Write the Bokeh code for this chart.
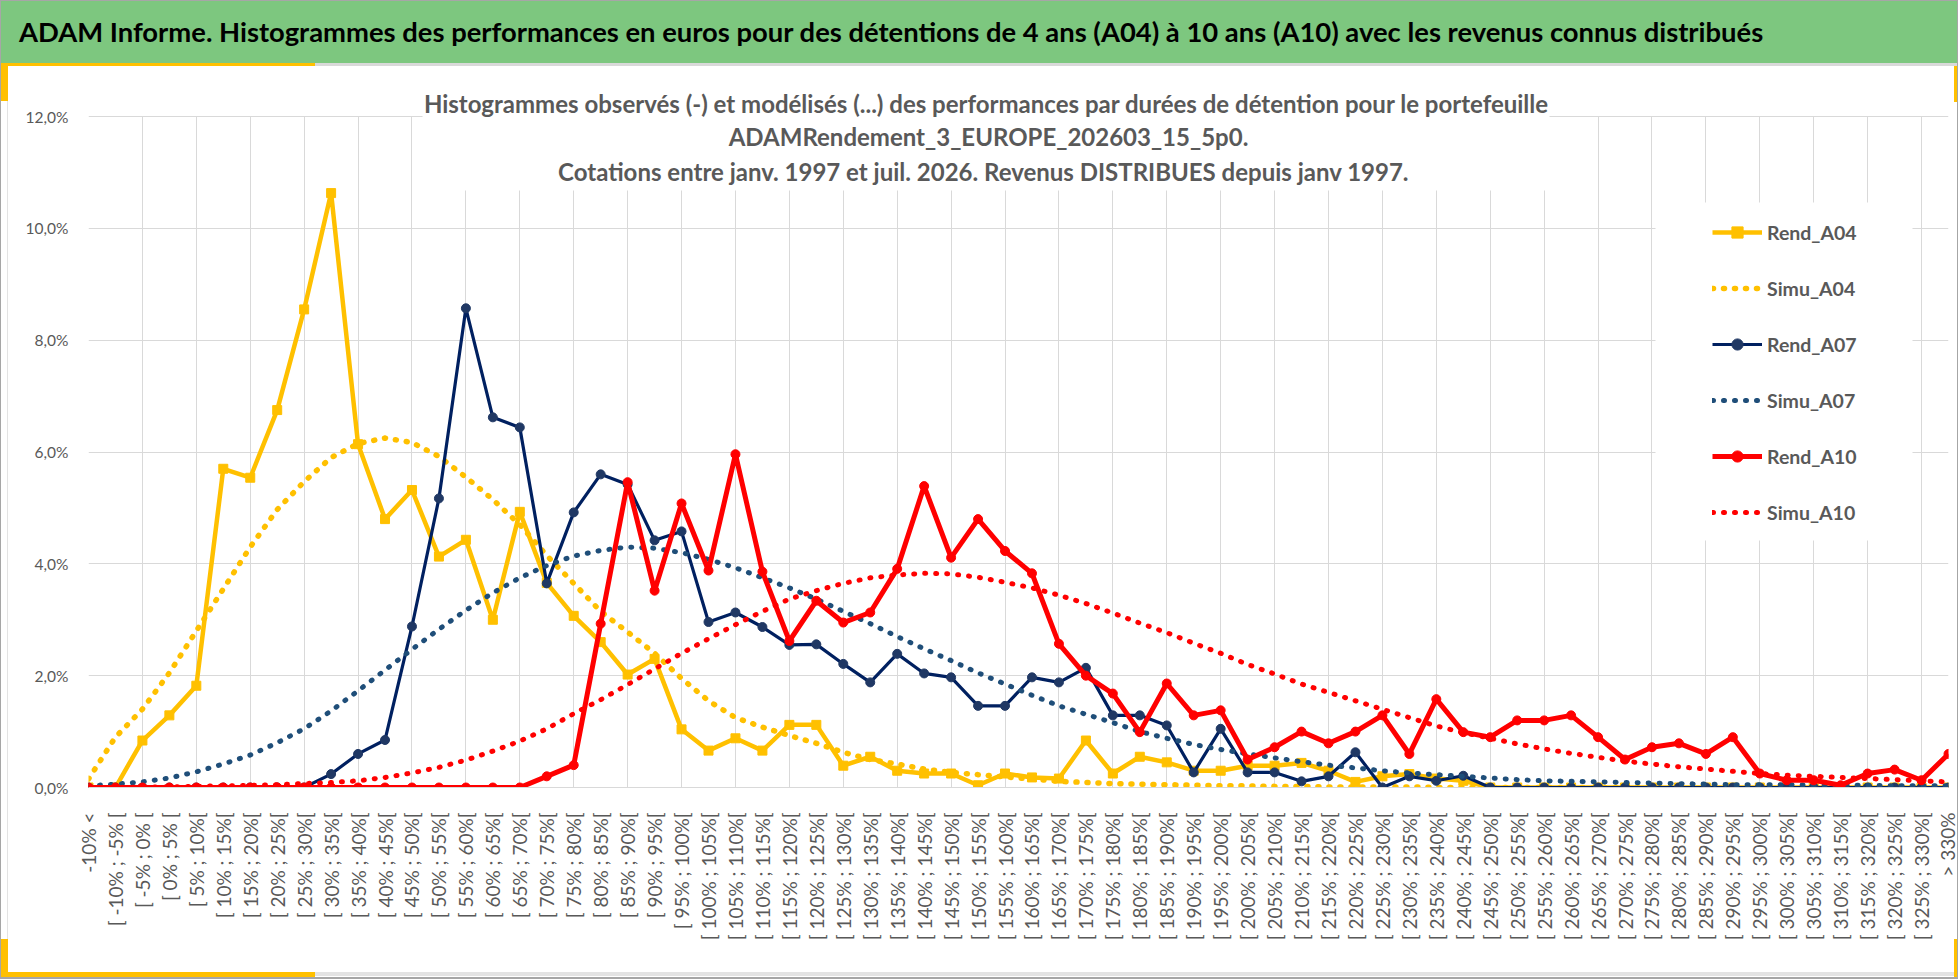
import math

from bokeh.plotting import figure
from bokeh.layouts import column
from bokeh.models import (FixedTicker, Range1d, Label, BoxAnnotation, Legend, LegendItem, Div)
from bokeh.embed import file_html
from bokeh.resources import INLINE

# --- donnees (en %) ---
bornes = list(range(-10, 330, 5))
categories = (["-10% <"]
              + ["[ %d%% ; %d%%%s[" % (b, b + 5, " " if abs(b + 5) < 10 else "") for b in bornes]
              + ["> 330%"])

rend_a04 = [0.00, 0.00, 0.84, 1.29, 1.82, 5.70, 5.54, 6.75, 8.55, 10.63,
            6.14, 4.80, 5.32, 4.13, 4.43, 3.00, 4.93, 3.66, 3.07, 2.60,
            2.02, 2.30, 1.04, 0.66, 0.88, 0.66, 1.12, 1.12, 0.39, 0.55,
            0.30, 0.25, 0.25, 0.04, 0.25, 0.18, 0.16, 0.84, 0.25, 0.55,
            0.45, 0.30, 0.30, 0.39, 0.39, 0.44, 0.30, 0.10, 0.20, 0.24,
            0.16, 0.12, 0.00, 0.00, 0.00, 0.00, 0.00, 0.00, 0.00, 0.00,
            0.00, 0.00, 0.00, 0.00, 0.00, 0.00, 0.00, 0.00, 0.00, 0.00]

simu_a04 = [0.15, 0.90, 1.40, 2.05, 2.80, 3.55, 4.30, 4.97, 5.47, 5.90,
            6.15, 6.25, 6.17, 5.92, 5.55, 5.15, 4.70, 4.15, 3.65, 3.15,
            2.78, 2.40, 1.95, 1.55, 1.25, 1.08, 0.93, 0.79, 0.63, 0.50,
            0.42, 0.33, 0.27, 0.23, 0.19, 0.15, 0.11, 0.09, 0.07, 0.06,
            0.05, 0.04, 0.03, 0.03, 0.02, 0.02, 0.01, 0.01, 0.01, 0.01,
            0.00, 0.00, 0.00, 0.00, 0.00, 0.00, 0.00, 0.00, 0.00, 0.00,
            0.00, 0.00, 0.00, 0.00, 0.00, 0.00, 0.00, 0.00, 0.00, 0.00]

rend_a07 = [0.00, 0.00, 0.00, 0.00, 0.00, 0.00, 0.00, 0.00, 0.00, 0.24,
            0.60, 0.85, 2.88, 5.17, 8.57, 6.62, 6.44, 3.65, 4.92, 5.60,
            5.42, 4.42, 4.58, 2.96, 3.13, 2.87, 2.55, 2.56, 2.21, 1.88,
            2.39, 2.04, 1.97, 1.46, 1.46, 1.97, 1.88, 2.14, 1.29, 1.29,
            1.11, 0.27, 1.05, 0.27, 0.27, 0.11, 0.20, 0.63, 0.00, 0.20,
            0.12, 0.21, 0.00, 0.00, 0.00, 0.00, 0.00, 0.00, 0.00, 0.00,
            0.00, 0.00, 0.00, 0.00, 0.00, 0.00, 0.00, 0.00, 0.00, 0.00]

simu_a07 = [0.03, 0.06, 0.10, 0.17, 0.28, 0.42, 0.58, 0.80, 1.05, 1.37,
            1.73, 2.10, 2.47, 2.83, 3.17, 3.48, 3.75, 3.97, 4.14, 4.24,
            4.30, 4.28, 4.20, 4.08, 3.93, 3.75, 3.57, 3.37, 3.15, 2.93,
            2.70, 2.48, 2.27, 2.05, 1.85, 1.65, 1.46, 1.31, 1.16, 1.00,
            0.88, 0.77, 0.68, 0.60, 0.53, 0.46, 0.40, 0.35, 0.30, 0.26,
            0.23, 0.20, 0.17, 0.14, 0.12, 0.11, 0.10, 0.09, 0.08, 0.07,
            0.06, 0.05, 0.05, 0.05, 0.04, 0.04, 0.04, 0.03, 0.03, 0.03]

rend_a10 = [0.00, 0.00, 0.00, 0.00, 0.00, 0.00, 0.00, 0.00, 0.00, 0.00,
            0.00, 0.00, 0.00, 0.00, 0.00, 0.00, 0.00, 0.20, 0.40, 2.93,
            5.46, 3.52, 5.08, 3.88, 5.96, 3.86, 2.62, 3.34, 2.95, 3.13,
            3.91, 5.39, 4.11, 4.80, 4.23, 3.83, 2.57, 2.00, 1.68, 0.99,
            1.86, 1.29, 1.38, 0.50, 0.72, 1.00, 0.79, 1.00, 1.29, 0.60,
            1.58, 0.99, 0.90, 1.20, 1.20, 1.29, 0.90, 0.50, 0.72, 0.79,
            0.60, 0.90, 0.25, 0.13, 0.13, 0.04, 0.25, 0.32, 0.13, 0.60]

simu_a10 = [0.00, 0.00, 0.01, 0.01, 0.02, 0.03, 0.04, 0.05, 0.07, 0.09,
            0.12, 0.18, 0.26, 0.36, 0.49, 0.65, 0.83, 1.05, 1.32, 1.57,
            1.84, 2.12, 2.40, 2.66, 2.91, 3.15, 3.37, 3.52, 3.65, 3.75,
            3.80, 3.83, 3.82, 3.76, 3.67, 3.57, 3.44, 3.29, 3.12, 2.94,
            2.77, 2.58, 2.40, 2.20, 2.03, 1.85, 1.70, 1.55, 1.40, 1.25,
            1.10, 0.98, 0.88, 0.78, 0.69, 0.61, 0.54, 0.47, 0.42, 0.37,
            0.33, 0.29, 0.25, 0.22, 0.20, 0.18, 0.16, 0.14, 0.12, 0.10]

y_ticks = [0, 2, 4, 6, 8, 10, 12]

titre = ("ADAM Informe. Histogrammes des performances en euros pour des détentions "
         "de 4 ans (A04) à 10 ans (A10) avec les revenus connus distribués")
sous_titres = ["Histogrammes observés (-) et modélisés (...) des performances par durées de détention pour le portefeuille",
               "ADAMRendement_3_EUROPE_202603_15_5p0.",
               "Cotations  entre janv. 1997 et juil. 2026. Revenus DISTRIBUES depuis janv 1997."]

# --- style ---
JAUNE = "#FFC000"
MARINE = "#002060"
MARINE_PT = "#203864"
BLEU_SIMU = "#1F4E79"
ROUGE = "#FF0000"
VERT = "#7DC77F"
GRIS = "#595959"
BORD = "#A6A6A6"
FONT = "Lato"

W = 1958
HH = 66                               # bandeau vert + filet
HF = 8                                # filet du bas
HM = 979 - HH - HF                    # graphique
FL, FR, FT, FB = 88, 1948, 50, 721    # cadre 0..12 % (pixels du graphique)
N = len(categories)
x = list(range(N))
y_top = 12 * FB / (FB - FT)           # le cadre monte jusqu'en haut pour loger le titre


def bande(color, pos, size):
    return "linear-gradient(%s, %s) %s / %s no-repeat" % (color, color, pos, size)


# --- bandeau ---
head = Div(text=titre, width=W, height=HH, margin=0,
           styles={"box-sizing": "border-box", "padding-left": "19px", "line-height": "64px",
                   "font-family": FONT, "font-weight": "bold", "font-size": "27.4px",
                   "color": "black", "white-space": "nowrap", "overflow": "hidden",
                   "background": ", ".join([bande(BORD, "left top", "100% 1px"),
                                            bande(BORD, "left top", "1px 100%"),
                                            bande(BORD, "right top", "1px 100%"),
                                            bande(JAUNE, "left bottom", "315px 3px"),
                                            bande("#D9D9D9", "left bottom", "100% 3px"),
                                            VERT])})
foot = Div(text="", width=W, height=HF, margin=0,
           styles={"box-sizing": "border-box",
                   "background": ", ".join([bande(BORD, "left bottom", "100% 2px"),
                                            bande(BORD, "left top", "1px 100%"),
                                            bande(BORD, "right top", "1px 100%"),
                                            bande(JAUNE, "left 0 top 1px", "315px 5px"),
                                            bande(JAUNE, "left 1px top 0", "7px 100%"),
                                            bande(JAUNE, "right 1px top 0", "3px 100%"),
                                            bande("#E3E3E3", "left 0 top 1px", "100% 4px"),
                                            "white"])})

# --- graphique ---
p = figure(width=W, height=HM, x_range=Range1d(0, N - 1), y_range=Range1d(0, y_top),
           output_backend="svg", toolbar_location=None, title=None,
           min_border_left=FL, min_border_right=W - FR,
           min_border_top=0, min_border_bottom=HM - FB)
p.outline_line_color = None
p.background_fill_color = "white"
p.border_fill_alpha = 0
# cadre gris et coins jaunes autour du graphique
p.styles = {"background": ", ".join([bande(BORD, "left top", "1px 100%"),
                                     bande(BORD, "right top", "1px 100%"),
                                     bande(JAUNE, "left 1px top 0", "7px 35px"),
                                     bande(JAUNE, "left 1px bottom 0", "7px 32px"),
                                     bande(JAUNE, "right 1px top 0", "3px 36px"),
                                     bande(JAUNE, "right 1px bottom 0", "3px 32px"),
                                     bande("#E3E3E3", "left 7px top 0", "1px 100%"),
                                     "white"])}


def xd(cx):
    return (cx - FL) * (N - 1) / (FR - FL)


def yd(cy):
    return (FB - cy) * 12 / (FB - FT)


p.xaxis.ticker = FixedTicker(ticks=x)
p.xaxis.major_label_overrides = {i: c for i, c in enumerate(categories)}
p.xaxis.major_label_orientation = math.pi / 2
p.xaxis.major_label_text_font = FONT
p.xaxis.major_label_text_font_size = "19px"
p.xaxis.major_label_text_color = GRIS
p.xaxis.major_label_standoff = 19
p.xaxis.axis_line_color = "#D9D9D9"
p.xaxis.major_tick_line_color = None
p.xaxis.minor_tick_line_color = None

p.yaxis.ticker = FixedTicker(ticks=y_ticks)
p.yaxis.major_label_overrides = {t: "%d,0%%" % t for t in y_ticks}
p.yaxis.major_label_text_font = FONT
p.yaxis.major_label_text_font_size = "15.5px"
p.yaxis.major_label_text_color = GRIS
p.yaxis.major_label_standoff = 14
p.yaxis.axis_line_color = None
p.yaxis.major_tick_line_color = None
p.yaxis.minor_tick_line_color = None

p.xgrid.ticker = FixedTicker(ticks=list(range(0, N, 2)))
p.xgrid.cross_bounds = (0, 12)
p.grid.grid_line_color = "#D9D9D9"
p.grid.grid_line_width = 1

# zones blanches du titre et de la legende
p.add_layout(BoxAnnotation(left=xd(422), right=xd(1549), top=y_top, bottom=yd(124),
                           fill_color="white", fill_alpha=1, line_color=None, level="underlay"))
p.add_layout(BoxAnnotation(left=xd(1655), right=xd(1912), top=yd(136), bottom=yd(474),
                           fill_color="white", fill_alpha=1, line_color=None, level="underlay"))
for t, cx, cy in zip(sous_titres, [986, 988, 986], [37, 70, 105]):
    p.add_layout(Label(x=xd(cx), y=yd(cy), text=t, text_font=FONT, text_font_style="bold",
                       text_font_size="24px", text_color=GRIS, text_align="center",
                       text_baseline="middle"))

# series
dots = dict(line_dash="1 10", line_cap="round")
l1 = p.line(x, rend_a04, color=JAUNE, line_width=4.5, line_join="round")
m1 = p.scatter(x, rend_a04, marker="square", size=9, color=JAUNE)
l2 = p.line(x, simu_a04, color=JAUNE, line_width=5.5, **dots)
l3 = p.line(x, rend_a07, color=MARINE, line_width=3.2, line_join="round")
m3 = p.scatter(x, rend_a07, marker="circle", size=9, color=MARINE_PT)
l4 = p.line(x, simu_a07, color=BLEU_SIMU, line_width=5, **dots)
l5 = p.line(x, rend_a10, color=ROUGE, line_width=5, line_join="round")
m5 = p.scatter(x, rend_a10, marker="circle", size=9, color=ROUGE)
l6 = p.line(x, simu_a10, color=ROUGE, line_width=5, **dots)

items = [LegendItem(label="Rend_A04", renderers=[l1, m1]),
         LegendItem(label="Simu_A04", renderers=[l2]),
         LegendItem(label="Rend_A07", renderers=[l3, m3]),
         LegendItem(label="Simu_A07", renderers=[l4]),
         LegendItem(label="Rend_A10", renderers=[l5, m5]),
         LegendItem(label="Simu_A10", renderers=[l6])]
# sans bordure visible la legende n'a pas de marge interne : coin bas-gauche = debut du trait
legend = Legend(items=items, location=(1712 - FL, FB - 460), glyph_width=50, glyph_height=28,
                label_height=28, label_standoff=5, spacing=28, padding=0, margin=0,
                border_line_color=None, background_fill_color="white", background_fill_alpha=1,
                label_text_font=FONT, label_text_font_style="bold",
                label_text_font_size="19.5px", label_text_color=GRIS)
p.add_layout(legend)

page = column(head, p, foot, spacing=0)
open("out.html", "w").write(file_html(page, INLINE))
